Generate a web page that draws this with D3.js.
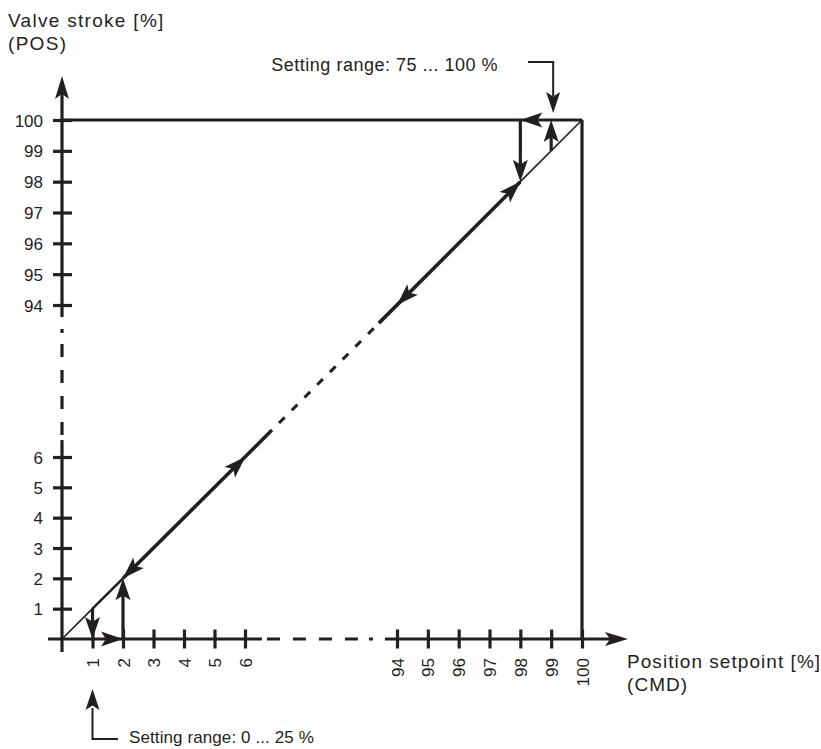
<!DOCTYPE html>
<html><head><meta charset="utf-8">
<script src="https://cdn.jsdelivr.net/npm/d3@7"></script>
<style>
body{margin:0;background:#fff}
svg text{font-family:"Liberation Sans",Arial,Helvetica,sans-serif;fill:#231f20}
</style></head><body>
<svg id="chart" width="821" height="749"></svg>
<script>
// ---- data ----
const xTicks = [1, 2, 3, 4, 5, 6, 94, 95, 96, 97, 98, 99, 100];
const yTicks = [1, 2, 3, 4, 5, 6, 94, 95, 96, 97, 98, 99, 100];
const scaleBreaks = [0, 6, 94, 100];          // axis is broken between 6 and 94
const axisDashed = [15.8, 87];                 // dashed part of both axes
const diagSegments = [                         // CMD = POS characteristic
  {from: 0, to: 1, w: 1.6, dash: null},
  {from: 1, to: 2, w: 2.6, dash: null},
  {from: 2, to: 21.6, w: 3.6, dash: null},
  {from: 21.6, to: 83.5, w: 3, dash: "8,10"},
  {from: 83.5, to: 98, w: 3.6, dash: null},
  {from: 98, to: 100, w: 1.6, dash: null}
];
const diagArrowsUp = [6.2, 98];                // arrow tips pointing up-right
const diagArrowsDown = [2, 94];                // arrow tips pointing down-left
const stepsLow = [{x: 1, y0: 1, y1: 0}, {x: 2, y0: 0, y1: 2}];
const stepsHigh = [{x: 98, y0: 100, y1: 98}, {x: 99, y0: 99, y1: 100}];
const hArrowLow = {x: 2, y: 0, dir: 0};        // along x axis, pointing right
const hArrowHigh = {x: 98, y: 100, dir: 180};  // along top line, pointing left
const yTitle = ["Valve stroke [%]", "(POS)"];
const xTitle = ["Position setpoint [%]", "(CMD)"];
const noteHigh = "Setting range: 75 ... 100 %";
const noteLow = "Setting range: 0 ... 25 %";

// ---- chart ----
const ink = "#231f20";
const svg = d3.select("#chart");
const x = d3.scaleLinear().domain(scaleBreaks).range([62, 245, 397, 582]);
const y = d3.scaleLinear().domain(scaleBreaks).range([639, 457, 305, 120]);

function arrowHead(tx, ty, ang, len = 22, w = 15) {
  svg.append("path")
    .attr("d", `M0,0 L${-len},${-w / 2} L${-len * 0.78},0 L${-len},${w / 2} Z`)
    .attr("transform", `translate(${tx},${ty}) rotate(${ang})`)
    .attr("fill", ink);
}
function seg(x1, y1, x2, y2, w = 3.2, dash = null) {
  const p = svg.append("line").attr("x1", x1).attr("y1", y1).attr("x2", x2).attr("y2", y2)
    .attr("stroke", ink).attr("stroke-width", w);
  if (dash) p.attr("stroke-dasharray", dash);
  return p;
}
const axisDash = "0,5,13,13,13,13,13,13,13,11,4,10";

// x axis
const xTip = x(100) + 46;
seg(x(0) - 14, y(0), x(axisDashed[0]), y(0));
seg(x(axisDashed[0]), y(0), x(axisDashed[1]), y(0), 3.2, axisDash);
seg(x(axisDashed[1]), y(0), xTip - 15, y(0));
arrowHead(xTip, y(0), 0, 23, 14);
const gx = svg.append("g").attr("transform", `translate(0,${y(0)})`)
  .call(d3.axisBottom(x).tickValues(xTicks).tickSize(0));
gx.select(".domain").remove();
gx.selectAll(".tick line").attr("y1", -9.5).attr("y2", 9.5).attr("stroke", ink).attr("stroke-width", 3.2);
gx.selectAll(".tick text").attr("transform", "rotate(-90)").attr("text-anchor", "end")
  .attr("x", -19).attr("y", 0).attr("dy", "0.36em")
  .attr("font-size", 17).attr("font-family", "Liberation Sans, Arial, sans-serif").attr("fill", "#333");

// y axis
const yTip = y(100) - 44;
seg(x(0), y(0) + 13, x(0), y(axisDashed[0]));
seg(x(0), y(axisDashed[0]), x(0), y(axisDashed[1]), 3.2, axisDash);
seg(x(0), y(axisDashed[1]), x(0), yTip + 15);
arrowHead(x(0), yTip, -90, 23, 14);
const gy = svg.append("g").attr("transform", `translate(${x(0)},0)`)
  .call(d3.axisLeft(y).tickValues(yTicks).tickSize(0).tickPadding(19));
gy.select(".domain").remove();
gy.selectAll(".tick line").attr("x1", -9).attr("x2", 10).attr("stroke", ink).attr("stroke-width", 3.2);
gy.selectAll(".tick text").attr("font-size", 17).attr("font-family", "Liberation Sans, Arial, sans-serif")
  .attr("fill", "#333").attr("dy", "0.36em");

// box (top and right)
seg(x(0), y(100), x(100), y(100));
seg(x(100), y(100), x(100), y(0));

// diagonal
diagSegments.forEach(s => {
  const l = seg(x(s.from), y(s.from), x(s.to), y(s.to), s.w, s.dash);
  if (s.dash) l.attr("stroke-dashoffset", 8);
  l.attr("stroke-linecap", s.w < 2 ? "round" : "butt");
});
diagArrowsUp.forEach(v => arrowHead(x(v), y(v), -45));
diagArrowsDown.forEach(v => arrowHead(x(v), y(v), 135));

// steps
[...stepsLow, ...stepsHigh].forEach(s => {
  const dir = y(s.y1) > y(s.y0) ? 1 : -1;
  seg(x(s.x), y(s.y0), x(s.x), y(s.y1) - dir * 12, 3.2);
  arrowHead(x(s.x), y(s.y1), dir > 0 ? 90 : -90);
});
arrowHead(x(hArrowLow.x), y(hArrowLow.y), hArrowLow.dir);
arrowHead(x(hArrowHigh.x), y(hArrowHigh.y), hArrowHigh.dir);

// titles
const t1 = svg.append("text").attr("x", 8).attr("y", 27).attr("font-size", 19).attr("letter-spacing", 1.3);
t1.append("tspan").attr("x", 8).text(yTitle[0]);
t1.append("tspan").attr("x", 8).attr("dy", 23).text(yTitle[1]);
const t2 = svg.append("text").attr("x", 627).attr("y", 668).attr("font-size", 19).attr("letter-spacing", 1.05);
t2.append("tspan").attr("x", 627).text(xTitle[0]);
t2.append("tspan").attr("x", 627).attr("dy", 23).text(xTitle[1]);

// setting range notes
const ax99 = x(99) + 2;
svg.append("text").attr("x", 498).attr("y", 71).attr("text-anchor", "end").attr("font-size", 18)
  .attr("letter-spacing", 0.5).text(noteHigh);
svg.append("path").attr("d", `M528,62 H${ax99} V${y(100) - 24}`).attr("fill", "none")
  .attr("stroke", ink).attr("stroke-width", 2);
arrowHead(ax99, y(100) - 7, 90, 21, 14);

svg.append("text").attr("x", 129).attr("y", 743).attr("font-size", 17)
  .attr("letter-spacing", 0.1).text(noteLow);
svg.append("path").attr("d", `M118,739 H${x(1)} V708`).attr("fill", "none")
  .attr("stroke", ink).attr("stroke-width", 2);
arrowHead(x(1), 689, -90, 21, 14);
</script>
</body></html>
